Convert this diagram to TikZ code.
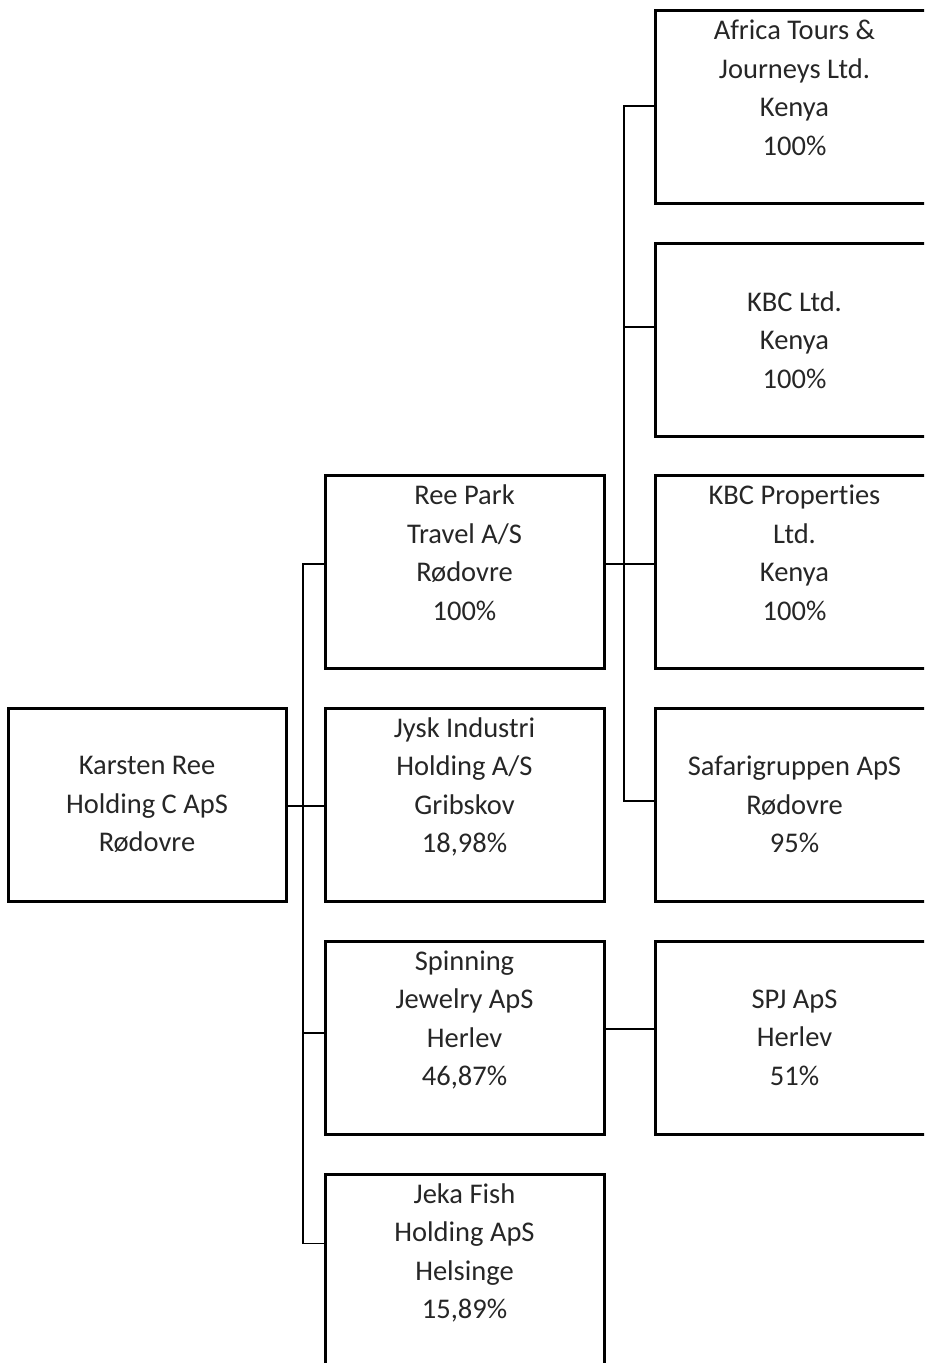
\documentclass[tikz,border=0pt]{standalone}
\usepackage{fontspec}
\setmainfont[RawFeature={-liga;-clig;-dlig}]{Carlito}
\begin{document}
\begin{tikzpicture}[x=1pt,y=-1pt,
  orgbox/.style={draw=black, line width=3pt, minimum width=279pt, minimum height=193pt,
    inner sep=0pt, outer sep=0pt, align=center, text=black!85,
    font=\fontsize{28.5pt}{38.5pt}\selectfont},
  conn/.style={draw=black, line width=1.3pt}]
\useasboundingbox (0,0) rectangle (924,1363);
\clip (0,0) rectangle (924,1363);
% column 1
\node[orgbox, minimum width=278pt] (karsten) at (147,804.5) {Karsten Ree\\Holding C ApS\\Rødovre};
% column 2
\node[orgbox] (ree) at (464.5,572) {Ree Park\\Travel A/S\\Rødovre\\100\%\\\mbox{}};
\node[orgbox] (jysk) at (464.5,804.5) {Jysk Industri\\Holding A/S\\Gribskov\\18,98\%\\\mbox{}};
\node[orgbox] (spin) at (464.5,1037.5) {Spinning\\Jewelry ApS\\Herlev\\46,87\%\\\mbox{}};
\node[orgbox] (jeka) at (464.5,1270.5) {Jeka Fish\\Holding ApS\\Helsinge\\15,89\%\\\mbox{}};
% column 3
\node[orgbox] (africa) at (794.5,107) {Africa Tours \&\\Journeys Ltd.\\Kenya\\100\%\\\mbox{}};
\node[orgbox] (kbc) at (794.5,340) {KBC Ltd.\\Kenya\\100\%};
\node[orgbox] (kbcp) at (794.5,572) {KBC Propert\kern0pt ies\\Ltd.\\Kenya\\100\%\\\mbox{}};
\node[orgbox] (safari) at (794.5,804.5) {Safarigruppen ApS\\Rødovre\\95\%};
\node[orgbox] (spj) at (794.5,1037.5) {SPJ ApS\\Herlev\\51\%};
% connectors from Karsten Ree Holding
\draw[conn] ([yshift=-1.5pt]karsten.east) -- ([yshift=-1.5pt]jysk.west);
\draw[conn] ([yshift=8pt]ree.west) -- ++(-22,0) |- ([yshift=27pt]jeka.west);
\draw[conn] ([yshift=4.5pt]spin.west) -- ++(-22,0);
% connectors from Ree Park Travel
\draw[conn] ([yshift=8pt]ree.east) -- ([yshift=8pt]kbcp.west);
\draw[conn] ([yshift=1pt]africa.west) -- ++(-31,0) |- ([yshift=3.5pt]safari.west);
\draw[conn] ([yshift=13pt]kbc.west) -- ++(-31,0);
% Spinning Jewelry to SPJ
\draw[conn] ([yshift=8.5pt]spin.east) -- ([yshift=8.5pt]spj.west);
\end{tikzpicture}
\end{document}
